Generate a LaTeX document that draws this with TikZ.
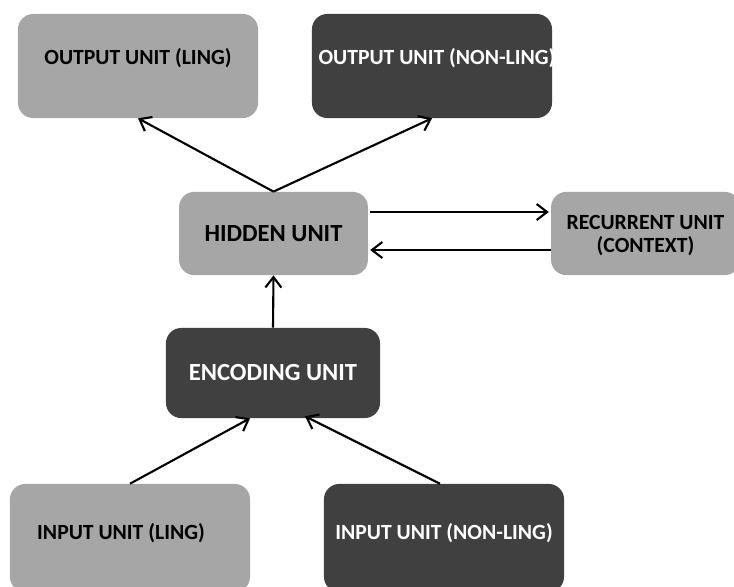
\documentclass[tikz,border=0pt]{standalone}
\usepackage{fontspec}
\setmainfont{Carlito}
\usetikzlibrary{arrows.meta,calc}
\definecolor{lightgrey}{HTML}{A6A6A6}
\definecolor{darkgrey}{HTML}{404040}
\begin{document}
\begin{tikzpicture}[x=0.025cm, y=-0.025cm,
    unitbox/.style = {shape=rectangle, rounded corners=0.38cm, inner sep=0pt,
                      font=\fontsize{15.4}{16.4}\selectfont\bfseries, align=center},
    bigtext/.style = {font=\fontsize{17.5}{20}\selectfont\bfseries},
    lightbox/.style = {unitbox, fill=lightgrey, text=black},
    darkbox/.style = {unitbox, fill=darkgrey, text=white},
    flow/.style = {-{Straight Barb[length=0.26cm, width=0.4cm]}, line width=1.5pt, black}]
    \useasboundingbox (0,0) rectangle (734,586);
    % output units
    \node[lightbox, minimum width=6cm, minimum height=2.6cm, text depth=0.5cm] (outL) at (138,66) {OUTPUT UNIT (LING)};
    \node[darkbox, minimum width=6cm, minimum height=2.6cm, text depth=0.5cm] (outN) at (432,66) {\makebox[0pt]{\hspace*{0.25cm}OUTPUT UNIT (NON-LING)}};
    % hidden and recurrent
    \node[lightbox, bigtext, minimum width=4.72cm, minimum height=2.08cm] (hidden) at (273.5,233.5) {HIDDEN UNIT};
    \node[lightbox, minimum width=4.72cm, minimum height=2.08cm, text depth=-0.1cm] (recur) at (645.5,233.5) {RECURRENT UNIT\\(CONTEXT)};
    % encoding
    \node[darkbox, bigtext, minimum width=5.35cm, minimum height=2.25cm] (enc) at (273,373) {ENCODING UNIT};
    % input units
    \node[lightbox, minimum width=6cm, minimum height=2.7cm, text depth=0.35cm] (inL) at (130,538) {\hspace*{-0.45cm}INPUT UNIT (LING)};
    \node[darkbox, minimum width=6cm, minimum height=2.7cm, text depth=0.35cm] (inN) at (444,538) {INPUT UNIT (NON-LING)};
    % connectors
    \draw[flow] (hidden.north) -- (outL.south);
    \draw[flow] (hidden.north) -- (outN.south);
    \draw[flow] ($(hidden.east)+(2,-21.5)$) -- ($(recur.west)+(-2,-21.5)$);
    \draw[flow] ($(recur.west)+(0,16.5)$) -- ($(hidden.east)+(2,16.5)$);
    \draw[flow] (enc.north) -- (hidden.south);
    \draw[flow] (inL.north) -- ($(enc.south)+(-23,0)$);
    \draw[flow] ($(inN.north)+(-4,0)$) -- ($(enc.south)+(32,-2)$);
\end{tikzpicture}
\end{document}
